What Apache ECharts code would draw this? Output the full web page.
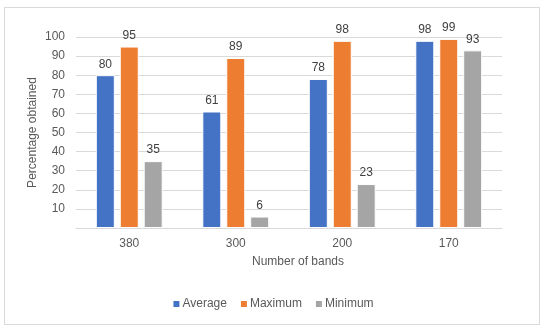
<!DOCTYPE html>
<html>
<head>
<meta charset="utf-8">
<script src="https://cdn.jsdelivr.net/npm/echarts@6/dist/echarts.min.js"></script>
<style>
	html, body { margin: 0; padding: 0; background: #fff; }
	#chart { width: 545px; height: 331px; }
</style>
</head>
<body>
<div id="chart"></div>
<script type="text/javascript">
	// data
	var bands = ['380', '300', '200', '170'];
	var average = [80, 61, 78, 98];
	var maximum = [95, 89, 98, 99];
	var minimum = [35, 6, 23, 93];
	var seriesNames = ['Average', 'Maximum', 'Minimum'];
	var colors = ['#4472C4', '#ED7D31', '#A5A5A5'];

	var txt = '#595959';
	var font = 'Liberation Sans, Arial, sans-serif';

	function barSerie(i, data) {
		return {
			name: seriesNames[i],
			type: 'bar',
			data: data,
			barWidth: 19,
			barGap: '26%',
			itemStyle: { color: colors[i], borderColor: '#fff', borderWidth: 1 },
			label: {
				show: true,
				position: 'top',
				distance: 5,
				color: '#404040',
				fontSize: 12,
				fontFamily: font
			}
		};
	}

	var myChart = echarts.init(document.getElementById('chart'));
	var option = {
		animation: false,
		textStyle: { fontFamily: font },
		graphic: [{
			type: 'rect',
			shape: { x: 4.5, y: 7.5, width: 535, height: 317 },
			style: { fill: 'none', stroke: '#D9D9D9', lineWidth: 1 },
			silent: true
		}],
		legend: {
			data: seriesNames,
			left: 'center',
			top: 293,
			itemWidth: 8,
			itemHeight: 8,
			itemGap: 12,
			icon: 'rect',
			textStyle: { color: txt, fontSize: 12, fontFamily: font, padding: [0, 0, 0, -3] }
		},
		grid: {
			left: 76,
			right: 43,
			top: 37,
			bottom: 103
		},
		xAxis: {
			type: 'category',
			data: bands,
			name: 'Number of bands',
			nameLocation: 'middle',
			nameGap: 28,
			nameMoveOverlap: false,
			nameTextStyle: { color: txt, fontSize: 12, fontFamily: font, padding: [0, 0, 0, 18] },
			axisLine: { lineStyle: { color: '#D9D9D9' } },
			axisTick: { show: false },
			axisLabel: { color: txt, fontSize: 12, fontFamily: font, margin: 10 }
		},
		yAxis: {
			type: 'value',
			min: 0,
			max: 100,
			interval: 10,
			name: 'Percentage obtained',
			nameLocation: 'middle',
			nameGap: 37,
			nameMoveOverlap: false,
			nameTextStyle: { color: txt, fontSize: 12, fontFamily: font },
			axisLine: { show: false },
			axisTick: { show: false },
			axisLabel: {
				color: txt,
				fontSize: 12,
				fontFamily: font,
				margin: 11,
				formatter: function (v) { return v === 0 ? '' : v; }
			},
			splitLine: { lineStyle: { color: '#D9D9D9' } }
		},
		series: [
			barSerie(0, average),
			barSerie(1, maximum),
			barSerie(2, minimum)
		]
	};
	myChart.setOption(option);
</script>
</body>
</html>
